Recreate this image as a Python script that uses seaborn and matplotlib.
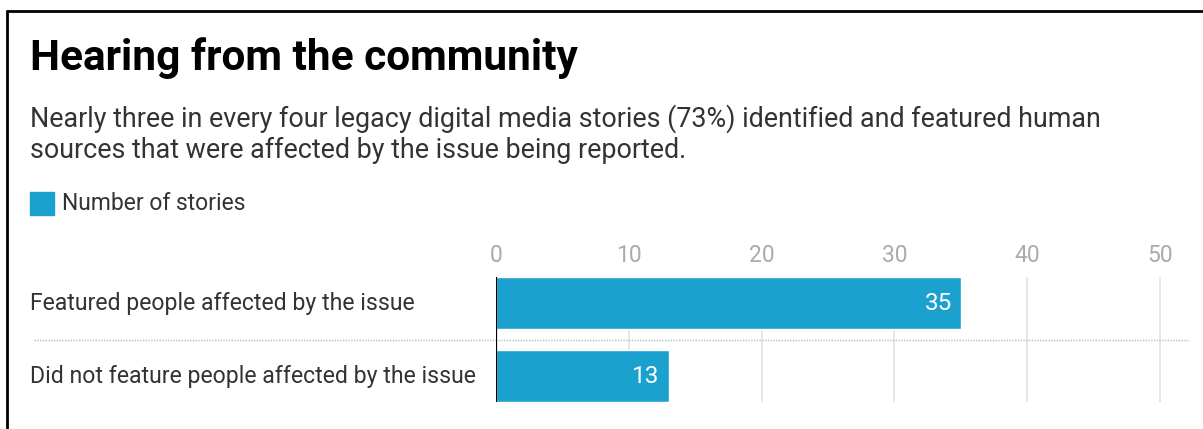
import matplotlib.pyplot as plt
import pandas as pd
import seaborn as sns
from matplotlib.lines import Line2D
from matplotlib.patches import Rectangle

# Dados
categorias = ['Featured people affected by the issue',
              'Did not feature people affected by the issue']
valores = [35, 13]
ticks_x = [0, 10, 20, 30, 40, 50]

titulo = 'Hearing from the community'
subtitulo = ('Nearly three in every four legacy digital media stories (73%) identified and featured human\n'
             'sources that were affected by the issue being reported.')
legenda = 'Number of stories'

cor_barra = '#1aa1ce'
cor_texto = '#333333'

sns.set_theme(style='white')
plt.rcParams['font.family'] = ['Roboto', 'DejaVu Sans']

df = pd.DataFrame({'categoria': categorias, 'valor': valores})

fig = plt.figure(figsize=(12.03, 4.29), dpi=100)
ax = fig.add_axes([0.4123, 0.0629, 0.5752, 0.2914])

sns.barplot(data=df, x='valor', y='categoria', color=cor_barra, width=0.71,
            saturation=1, ax=ax, zorder=3)

ax.set_xlim(0, 52.1)
ax.set_ylim(1.356, -0.356)
ax.set_xticks(ticks_x)
ax.xaxis.tick_top()
ax.tick_params(axis='x', length=0, pad=7, labelsize=16.5, labelcolor='#ababab')
ax.tick_params(axis='y', length=0, pad=0)
ax.set_yticklabels([])
ax.set_xlabel('')
ax.set_ylabel('')
for s in ax.spines.values():
    s.set_visible(False)

# grade vertical
for t in ticks_x[1:]:
    ax.axvline(t, color='#e3e3e3', lw=1.2, zorder=1)
ax.axvline(0, color='black', lw=1.6, zorder=4)

# separador pontilhado
ax.axhline(0.5, xmin=-0.668, xmax=1.0, color='#bbbbbb', lw=1, ls=(0, (1, 1)),
           clip_on=False, zorder=2)

# rótulos das categorias e valores
for i, (cat, v) in enumerate(zip(categorias, valores)):
    ax.annotate(cat, xy=(0, i), xycoords=('figure fraction', 'data'),
                xytext=(30, 0), textcoords='offset pixels',
                ha='left', va='center', fontsize=16.6, color=cor_texto)
    ax.annotate(str(v), xy=(v, i), xytext=(-9, 0), textcoords='offset pixels',
                ha='right', va='center', fontsize=17.5, color='white', zorder=5)

# título, subtítulo e legenda
fig.text(30 / 1203, 1 - 58 / 429, titulo, fontsize=30.5, fontweight='bold',
         color='black', ha='left', va='center')
fig.text(30 / 1203, 1 - 134 / 429, subtitulo, fontsize=19.4, color=cor_texto,
         ha='left', va='center', linespacing=1.2)
fig.patches.append(Rectangle((30 / 1203, 1 - 215 / 429), 24 / 1203, 23 / 429,
                             transform=fig.transFigure, color=cor_barra))
fig.text(62 / 1203, 1 - 203 / 429, legenda, fontsize=16.5, color=cor_texto,
         ha='left', va='center')

# moldura
fig.add_artist(Line2D([7 / 1203, 1], [1 - 11 / 429, 1 - 11 / 429], color='black', lw=2))
fig.add_artist(Line2D([7 / 1203, 7 / 1203], [0, 1 - 11 / 429], color='black', lw=2))

fig.savefig('out.png', dpi=100)
